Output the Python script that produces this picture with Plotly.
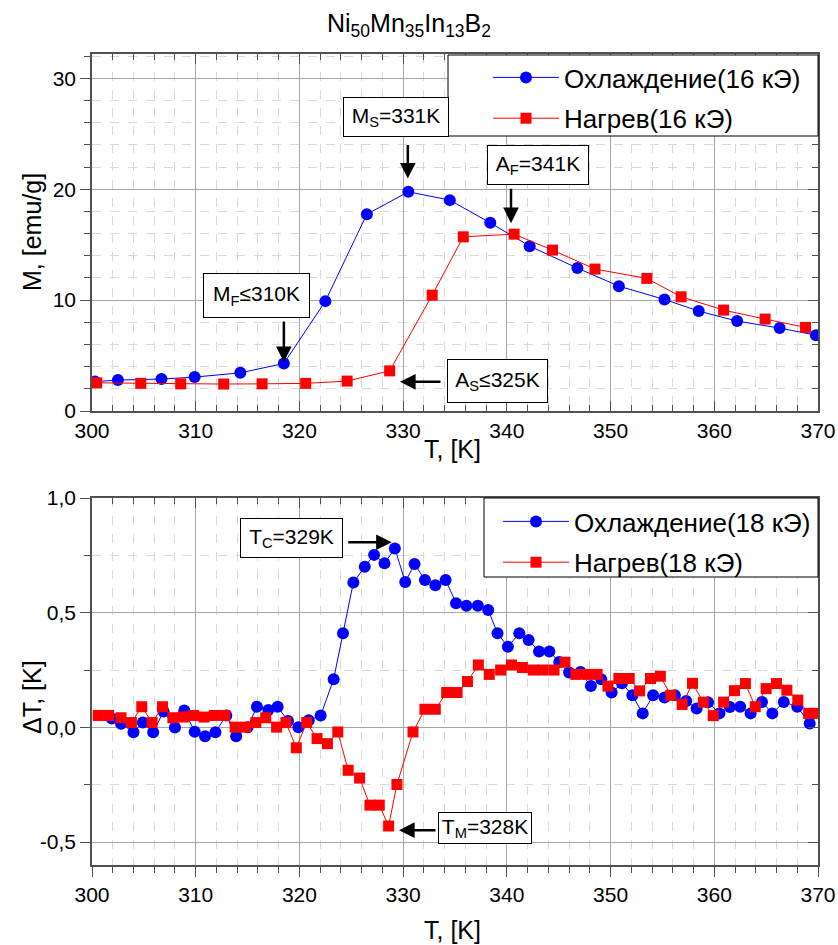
import plotly.graph_objects as go

# ---------------- data ----------------
top_cool_T = [300.3, 302.5, 306.7, 309.9, 314.3, 318.5, 322.5, 326.5, 330.5, 334.5, 338.4,
              342.2, 346.8, 350.8, 355.2, 358.5, 362.2, 366.3, 369.8]
top_cool_M = [2.65, 2.79, 2.88, 3.06, 3.44, 4.29, 9.91, 17.75, 19.77, 19.02, 16.97,
              14.87, 12.89, 11.26, 10.06, 9.01, 8.11, 7.48, 6.84]

top_heat_T = [300.45, 304.7, 308.55, 312.7, 316.4, 320.6, 324.6, 328.7, 332.8, 335.8, 340.7,
              344.4, 348.5, 353.5, 356.8, 360.9, 364.9, 368.8]
top_heat_M = [2.54, 2.49, 2.45, 2.43, 2.45, 2.49, 2.70, 3.62, 10.45, 15.71, 15.95,
              14.51, 12.80, 11.96, 10.30, 9.10, 8.29, 7.54]

bot_cool_T = [301.9, 302.8, 304.0, 304.9, 305.9, 306.9, 308.0, 308.9, 309.9, 310.9, 311.9,
              312.95, 313.9, 315.0, 315.9, 317.0, 317.9, 318.9, 319.9, 320.9, 322.05, 323.3,
              324.2, 325.2, 326.3, 327.2, 328.2, 329.2, 330.2, 331.1, 332.1, 333.1, 334.1,
              335.1, 336.1, 337.2, 338.2, 339.1, 340.1, 341.2, 342.1, 343.1, 344.1, 345.05,
              346.0, 347.1, 348.1, 349.1, 350.1, 351.1, 352.1, 353.1, 354.1, 355.2, 356.2,
              357.3, 358.3, 359.4, 360.5, 361.5, 362.5, 363.5, 364.6, 365.6, 366.7, 368.0, 369.2]
bot_cool_dT = [0.039, 0.016, -0.021, 0.021, -0.021, 0.069, -0.001, 0.074, -0.019, -0.039, -0.021,
               0.052, -0.039, 0.001, 0.090, 0.076, 0.090, 0.028, 0.001, 0.031, 0.052, 0.210,
               0.410, 0.632, 0.700, 0.752, 0.715, 0.780, 0.634, 0.712, 0.643, 0.620, 0.643,
               0.541, 0.530, 0.530, 0.512, 0.410, 0.352, 0.410, 0.381, 0.331, 0.331, 0.285,
               0.239, 0.241, 0.180, 0.210, 0.152, 0.192, 0.140, 0.061, 0.140, 0.130, 0.140,
               0.115, 0.082, 0.109, 0.061, 0.089, 0.090, 0.061, 0.111, 0.061, 0.111, 0.090, 0.017]

bot_heat_T = [300.6, 301.6, 302.8, 303.8, 304.8, 305.8, 306.8, 307.8, 308.8, 309.8, 310.8,
              311.8, 312.8, 313.8, 314.8, 315.8, 316.75, 317.8, 318.7, 319.7, 320.7, 321.7,
              322.7, 323.7, 324.7, 325.8, 326.8, 327.7, 328.6, 329.4, 330.95, 332.1, 333.1,
              334.2, 335.2, 336.2, 337.25, 338.3, 339.4, 340.45, 341.5, 342.55, 343.5, 344.55,
              345.6, 346.65, 347.7, 348.7, 349.75, 350.8, 351.8, 352.8, 353.85, 354.8, 355.8,
              356.9, 357.9, 358.95, 359.9, 360.9, 361.95, 363.0, 363.95, 365.0, 366.0, 367.0,
              368.05, 369.1, 369.85]
bot_heat_dT = [0.052, 0.052, 0.042, 0.021, 0.090, 0.021, 0.090, 0.042, 0.045, 0.052, 0.045,
               0.052, 0.052, 0.001, 0.001, 0.021, 0.042, 0.001, 0.021, -0.089, 0.021, -0.049,
               -0.071, -0.020, -0.187, -0.221, -0.339, -0.339, -0.430, -0.249, -0.020, 0.079, 0.079,
               0.152, 0.152, 0.200, 0.272, 0.231, 0.250, 0.272, 0.261, 0.250, 0.250, 0.250,
               0.284, 0.231, 0.231, 0.231, 0.180, 0.213, 0.213, 0.159, 0.213, 0.223, 0.140,
               0.100, 0.192, 0.110, 0.051, 0.110, 0.160, 0.191, 0.090, 0.169, 0.191, 0.162,
               0.119, 0.061, 0.061]

x_ticks = [300, 310, 320, 330, 340, 350, 360, 370]
top_y_ticks = [0, 10, 20, 30]
bot_y_ticks = [-0.5, 0.0, 0.5, 1.0]
bot_y_labels = ["-0,5", "0,0", "0,5", "1,0"]
bot_y_minor = [-0.25, 0.25, 0.75]

names_top = ["Охлаждение(16 кЭ)", "Нагрев(16 кЭ)"]
names_bot = ["Охлаждение(18 кЭ)", "Нагрев(18 кЭ)"]

# ---------------- style ----------------
W, H = 838, 945
FONT = "Liberation Sans, Arial, sans-serif"
AX = "#505050"
GRID = "#a6a6a6"
MINOR = "#d9d9d9"
BLUE = "#0000ff"
RED = "#ff0000"

def px(x):
    return x / W

def py(y):
    return 1 - y / H

xdom = [px(92), px(818)]
top_dom = [py(411), py(54)]
bot_dom = [py(865), py(498)]

fig = go.Figure()

fig.add_trace(go.Scatter(x=top_cool_T, y=top_cool_M, mode="lines+markers", name=names_top[0],
                         line=dict(color=BLUE, width=1),
                         marker=dict(symbol="circle", size=12, color=BLUE),
                         xaxis="x", yaxis="y", legend="legend", legendgroup="a"))
fig.add_trace(go.Scatter(x=top_heat_T, y=top_heat_M, mode="lines+markers", name=names_top[1],
                         line=dict(color=RED, width=1),
                         marker=dict(symbol="square", size=11, color=RED),
                         xaxis="x", yaxis="y", legend="legend", legendgroup="b"))
fig.add_trace(go.Scatter(x=bot_cool_T, y=bot_cool_dT, mode="lines+markers", name=names_bot[0],
                         line=dict(color=BLUE, width=1),
                         marker=dict(symbol="circle", size=12, color=BLUE),
                         xaxis="x2", yaxis="y2", legend="legend2", legendgroup="c"))
fig.add_trace(go.Scatter(x=bot_heat_T, y=bot_heat_dT, mode="lines+markers", name=names_bot[1],
                         line=dict(color=RED, width=1),
                         marker=dict(symbol="square", size=11, color=RED),
                         xaxis="x2", yaxis="y2", legend="legend2", legendgroup="d"))
# empty traces so the mirrored tick axes are drawn
fig.add_trace(go.Scatter(x=[], y=[], xaxis="x", yaxis="y3", showlegend=False, hoverinfo="skip"))
fig.add_trace(go.Scatter(x=[], y=[], xaxis="x4", yaxis="y4", showlegend=False, hoverinfo="skip"))

tickfont = dict(family=FONT, size=21, color="black")

def base_axis(**kw):
    d = dict(showline=True, linecolor=AX, linewidth=1.5, tickcolor=AX, tickwidth=1.3,
             ticklen=10, tickfont=tickfont, zeroline=False, automargin=False)
    d.update(kw)
    return d

legfont = dict(family=FONT, size=26, color="black")

fig.update_layout(
    template="none",
    width=W, height=H, margin=dict(l=0, r=0, t=0, b=0, autoexpand=False),
    paper_bgcolor="white", plot_bgcolor="white",
    font=dict(family=FONT, color="black"),
    showlegend=True,
    xaxis=base_axis(domain=xdom, anchor="y", range=[300, 370], tickmode="array", tickvals=x_ticks,
                    ticks="inside", mirror="ticks", showgrid=True, gridcolor=GRID, gridwidth=1,
                    ticklabelstandoff=0,
                    minor=dict(dtick=2, tick0=300, ticks="inside", ticklen=6, tickcolor=AX,
                               showgrid=True, gridcolor=MINOR, griddash="dash", gridwidth=1)),
    yaxis=base_axis(domain=top_dom, anchor="x", range=[0, 32.2], tickmode="array", tickvals=top_y_ticks,
                    ticks="outside", mirror=True, showgrid=True, gridcolor=GRID, gridwidth=1,
                    minor=dict(dtick=2, tick0=0, ticks="outside", ticklen=6, tickcolor=AX,
                               showgrid=True, gridcolor=MINOR, griddash="dash", gridwidth=1)),
    yaxis3=dict(overlaying="y", side="right", anchor="x", range=[0, 32.2], tickmode="array",
                tickvals=top_y_ticks, ticks="inside", ticklen=10, tickcolor=AX, tickwidth=1.3,
                showticklabels=False, showgrid=False, showline=False, zeroline=False, automargin=False,
                minor=dict(dtick=2, tick0=0, ticks="inside", ticklen=6, tickcolor=AX, showgrid=False)),
    xaxis2=base_axis(domain=xdom, anchor="y2", range=[300, 370], tickmode="array", tickvals=x_ticks,
                     ticks="outside", mirror=True, showgrid=True, gridcolor=GRID, gridwidth=1,
                     minor=dict(dtick=2, tick0=300, ticks="outside", ticklen=6, tickcolor=AX,
                                showgrid=True, gridcolor=MINOR, griddash="dash", gridwidth=1)),
    xaxis4=dict(overlaying="x2", side="top", anchor="y2", range=[300, 370], tickmode="array",
                tickvals=x_ticks, ticks="inside", ticklen=10, tickcolor=AX, tickwidth=1.3,
                showticklabels=False, showgrid=False, showline=False, zeroline=False, automargin=False,
                minor=dict(dtick=2, tick0=300, ticks="inside", ticklen=6, tickcolor=AX, showgrid=False)),
    yaxis2=base_axis(domain=bot_dom, anchor="x2", range=[-0.6, 1.0], tickmode="array",
                     tickvals=bot_y_ticks, ticktext=bot_y_labels,
                     ticks="outside", mirror=True, showgrid=True, gridcolor=GRID, gridwidth=1,
                     minor=dict(tickmode="array", tickvals=bot_y_minor, ticks="outside", ticklen=6,
                                tickcolor=AX, showgrid=True, gridcolor=MINOR, griddash="dash", gridwidth=1)),
    yaxis4=dict(overlaying="y2", side="right", anchor="x4", range=[-0.6, 1.0], tickmode="array",
                tickvals=bot_y_ticks, ticks="inside", ticklen=10, tickcolor=AX, tickwidth=1.3,
                showticklabels=False, showgrid=False, showline=False, zeroline=False, automargin=False,
                minor=dict(tickmode="array", tickvals=bot_y_minor, ticks="inside", ticklen=6,
                           tickcolor=AX, showgrid=False)),
    legend=dict(x=px(488), y=py(54), xanchor="left", yanchor="top", bgcolor="rgba(0,0,0,0)",
                borderwidth=0, font=legfont, itemwidth=66, tracegroupgap=4),
    legend2=dict(x=px(498), y=py(498), xanchor="left", yanchor="top", bgcolor="rgba(0,0,0,0)",
                 borderwidth=0, font=legfont, itemwidth=66, tracegroupgap=4),
    title=dict(text="Ni<sub>50</sub>Mn<sub>35</sub>In<sub>13</sub>B<sub>2</sub>",
               x=px(409), xanchor="center", y=py(23), yanchor="middle",
               font=dict(family=FONT, size=25, color="black")),
)

# legend frames (white boxes behind the native legends)
for x0, y0, x1, y1 in [(448, 55, 818, 136), (484, 498, 818, 577)]:
    fig.add_shape(type="rect", xref="paper", yref="paper", x0=px(x0), y0=py(y1), x1=px(x1), y1=py(y0),
                  line=dict(color="black", width=1), fillcolor="white", layer="above")

# axis titles
lab = dict(family=FONT, size=25, color="black")
fig.add_annotation(text="M, [emu/g]", xref="paper", yref="paper", x=px(32), y=py(232),
                   textangle=-90, showarrow=False, font=lab, xanchor="center", yanchor="middle")
fig.add_annotation(text="ΔT, [K]", xref="paper", yref="paper", x=px(32), y=py(697),
                   textangle=-90, showarrow=False, font=lab, xanchor="center", yanchor="middle")
fig.add_annotation(text="T, [K]", xref="paper", yref="paper", x=px(453), y=py(449),
                   showarrow=False, font=lab, xanchor="center", yanchor="middle")
fig.add_annotation(text="T, [K]", xref="paper", yref="paper", x=px(453), y=py(930),
                   showarrow=False, font=lab, xanchor="center", yanchor="middle")

# labelled boxes: (text, xref, yref, x, y, width, height)
afont = dict(family=FONT, size=21, color="black")
boxes = [
    ("M<sub>S</sub>=331K", "x", "y", 329.3, 26.5, 104, 38),
    ("A<sub>F</sub>=341K", "x", "y", 343.0, 22.17, 100, 38),
    ("M<sub>F</sub>≤310K", "x", "y", 315.9, 10.4, 105, 43),
    ("A<sub>S</sub>≤325K", "x", "y", 339.1, 2.7, 99, 42),
    ("T<sub>C</sub>=329K", "x2", "y2", 319.2, 0.824, 101, 38),
    ("T<sub>M</sub>=328K", "x2", "y2", 337.85, -0.437, 92, 30),
]
for t, xr, yr, x, y, w, h in boxes:
    fig.add_annotation(text=t, xref=xr, yref=yr, x=x, y=y, width=w, height=h, showarrow=False,
                       font=afont, bgcolor="white", bordercolor="black", borderwidth=1,
                       borderpad=0, xanchor="center", yanchor="middle", align="center")

# arrows: (xref, yref, head x, head y, tail dx px, tail dy px)
arrows = [
    ("x", "y", 330.45, 20.97, 0, -35),
    ("x", "y", 340.4, 16.94, 0, -36),
    ("x", "y", 318.5, 4.41, 0, -42),
    ("x", "y", 329.7, 2.63, 42, 0),
    ("x2", "y2", 328.9, 0.807, -45, 0),
    ("x2", "y2", 329.6, -0.448, 38, 0),
]
for xr, yr, x, y, dx, dy in arrows:
    fig.add_annotation(text="", xref=xr, yref=yr, x=x, y=y, ax=dx, ay=dy, showarrow=True,
                       arrowhead=2, arrowsize=1.25, arrowwidth=2.5, arrowcolor="black", standoff=0)

fig.write_html("out.html")
